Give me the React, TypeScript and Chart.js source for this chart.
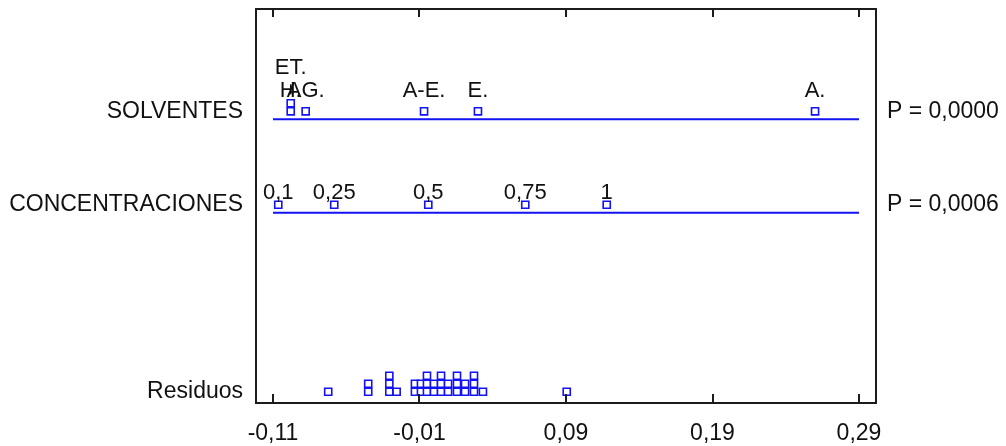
import { useEffect, useRef } from "react";
import { Chart, registerables } from "chart.js";

Chart.register(...registerables);

// ---- data ----
const xTickValues = [-0.11, -0.01, 0.09, 0.19, 0.29];
const rowLabels = ["Residuos", "CONCENTRACIONES", "SOLVENTES"];
const pLabels = ["P = 0,0006", "P = 0,0000"];

const solventLabels = ["H.", "ET.", "AG.", "A-E.", "E.", "A."];
const solventEffects = [-0.0979, -0.0979, -0.0877, -0.0069, 0.0299, 0.26];

const concLabels = ["0,1", "0,25", "0,5", "0,75", "1"];
const concEffects = [-0.1064, -0.0682, -0.004, 0.0622, 0.1178];

const residuals = [
  -0.0723, -0.045, -0.045, -0.0306, -0.0306, -0.0306, -0.0256, -0.0131,
  -0.0131, -0.009, -0.009, -0.0049, -0.0049, -0.0049, -0.0001, -0.0001,
  0.0047, 0.0047, 0.0047, 0.0095, 0.0095, 0.0156, 0.0156, 0.0156, 0.0211,
  0.0211, 0.0272, 0.0272, 0.0272, 0.0333, 0.0905,
];

// ---- layout constants ----
const ROW_SOLV = 3;
const ROW_CONC = 2;
const ROW_RES = 0;
const STEP = 8 / 93.5; // one stacked square in y units
const BLUE = "rgb(18,18,245)";
const FONT = "'Liberation Sans', Arial, sans-serif";

function stackPoints(values: number[], row: number, thr = 0.0035) {
  const levels: number[] = [];
  values.forEach((v, i) => {
    let L = 0;
    while (values.some((w, j) => j < i && levels[j] === L && Math.abs(w - v) < thr)) L++;
    levels.push(L);
  });
  return values.map((v, i) => ({ x: v, y: row + (levels[i] + 1) * STEP, level: levels[i] }));
}

const fmt = (v: number) => v.toFixed(2).replace(".", ",");

const framePlugin = {
  id: "frameTicks",
  afterDraw(chart: any) {
    const { ctx, chartArea: a, scales } = chart;
    ctx.save();
    ctx.strokeStyle = "#1c1c1c";
    ctx.lineWidth = 2;
    ctx.strokeRect(a.left, a.top, a.right - a.left, a.bottom - a.top);
    xTickValues.forEach((t) => {
      const x = Math.round(scales.x.getPixelForValue(t));
      ctx.beginPath();
      ctx.moveTo(x, a.bottom);
      ctx.lineTo(x, a.bottom - 9);
      ctx.moveTo(x, a.top);
      ctx.lineTo(x, a.top + 8);
      ctx.stroke();
    });
    ctx.restore();
  },
};

const labelPlugin = {
  id: "pointLabels",
  afterDatasetsDraw(chart: any) {
    const { ctx, scales } = chart;
    chart.data.datasets.forEach((ds: any, i: number) => {
      if (!ds.pointLabels) return;
      const meta = chart.getDatasetMeta(i);
      const lineY = scales.y.getPixelForValue(ds.row);
      const maxLevel = Math.max(...ds.data.map((p: any) => p.level));
      const base = lineY - (maxLevel + 1) * 8 - 6;
      const placed: { x: number; l: number }[] = [];
      ctx.save();
      ctx.font = `22px ${FONT}`;
      ctx.fillStyle = "#111";
      ctx.textAlign = "center";
      ctx.textBaseline = "alphabetic";
      meta.data.forEach((el: any, k: number) => {
        const x = el.x;
        let l = 0;
        while (placed.some((p) => p.l === l && Math.abs(p.x - x) < 10)) l++;
        placed.push({ x, l });
        ctx.fillText(ds.pointLabels[k], x, base - l * 23);
        if (l > 0) {
          ctx.strokeStyle = "#111";
          ctx.lineWidth = 1.5;
          ctx.beginPath();
          ctx.moveTo(x, base - 13);
          ctx.lineTo(x, base - 3);
          ctx.stroke();
        }
      });
      ctx.restore();
    });
  },
};

export default function App() {
  const ref = useRef<HTMLCanvasElement>(null);

  useEffect(() => {
    if (!ref.current) return;
    const pointStyle = {
      type: "scatter" as const,
      pointStyle: "rect",
      pointRadius: 5,
      pointHoverRadius: 5,
      borderColor: BLUE,
      backgroundColor: "#fff",
      borderWidth: 1.6,
    };
    const lineDs = (row: number) => ({
      type: "line" as const,
      data: [
        { x: xTickValues[0], y: row },
        { x: xTickValues[xTickValues.length - 1], y: row },
      ],
      borderColor: BLUE,
      borderWidth: 2,
      pointRadius: 0,
      fill: false,
    });
    const noPad = (s: any) => {
      s.paddingTop = 0;
      s.paddingBottom = 0;
      s.paddingLeft = 0;
      s.paddingRight = 0;
    };

    const chart = new Chart(ref.current, {
      type: "scatter",
      data: {
        datasets: [
          lineDs(ROW_SOLV),
          lineDs(ROW_CONC),
          { ...pointStyle, data: stackPoints(solventEffects, ROW_SOLV, 0.0035), pointLabels: solventLabels, row: ROW_SOLV } as any,
          { ...pointStyle, data: stackPoints(concEffects, ROW_CONC, 0.0035), pointLabels: concLabels, row: ROW_CONC } as any,
          { ...pointStyle, data: stackPoints(residuals, ROW_RES, 0.0035) } as any,
        ],
      },
      options: {
        animation: false,
        responsive: true,
        maintainAspectRatio: false,
        events: [],
        layout: { padding: { top: 9, left: 0, right: 0, bottom: 0 } },
        plugins: { legend: { display: false }, tooltip: { enabled: false } },
        scales: {
          x: {
            type: "linear",
            min: -0.1216,
            max: 0.3016,
            grid: { display: false, drawTicks: false },
            border: { display: false },
            afterBuildTicks: (s: any) => {
              s.ticks = xTickValues.map((v) => ({ value: v }));
            },
            afterFit: (s: any) => {
              s.height = 43;
              noPad(s);
            },
            ticks: {
              autoSkip: false,
              maxRotation: 0,
              padding: 17,
              color: "#111",
              font: { family: FONT, size: 23 },
              callback: (v: any) => fmt(Number(v)),
            },
          },
          y: {
            type: "linear",
            position: "left",
            min: -0.035,
            max: 4.18,
            grid: { display: false, drawTicks: false },
            border: { display: false },
            afterBuildTicks: (s: any) => {
              s.ticks = [ROW_RES, ROW_CONC, ROW_SOLV].map((r) => ({ value: r + STEP }));
            },
            afterFit: (s: any) => {
              s.width = 256;
              noPad(s);
            },
            ticks: {
              autoSkip: false,
              padding: 13,
              color: "#111",
              font: { family: FONT, size: 23 },
              callback: (_v: any, i: number) => rowLabels[i],
            },
          },
          y2: {
            type: "linear",
            position: "right",
            min: -0.035,
            max: 4.18,
            grid: { display: false, drawTicks: false },
            border: { display: false },
            afterBuildTicks: (s: any) => {
              s.ticks = [ROW_CONC, ROW_SOLV].map((r) => ({ value: r + STEP }));
            },
            afterFit: (s: any) => {
              s.width = 130;
              noPad(s);
            },
            ticks: {
              autoSkip: false,
              padding: 11,
              color: "#111",
              font: { family: FONT, size: 23 },
              callback: (_v: any, i: number) => pLabels[i],
            },
          },
        },
      },
      plugins: [framePlugin, labelPlugin],
    });
    return () => chart.destroy();
  }, []);

  return (
    <div style={{ position: "fixed", left: 0, top: 0, width: 1006, height: 446, background: "#fff" }}>
      <canvas ref={ref} />
    </div>
  );
}
